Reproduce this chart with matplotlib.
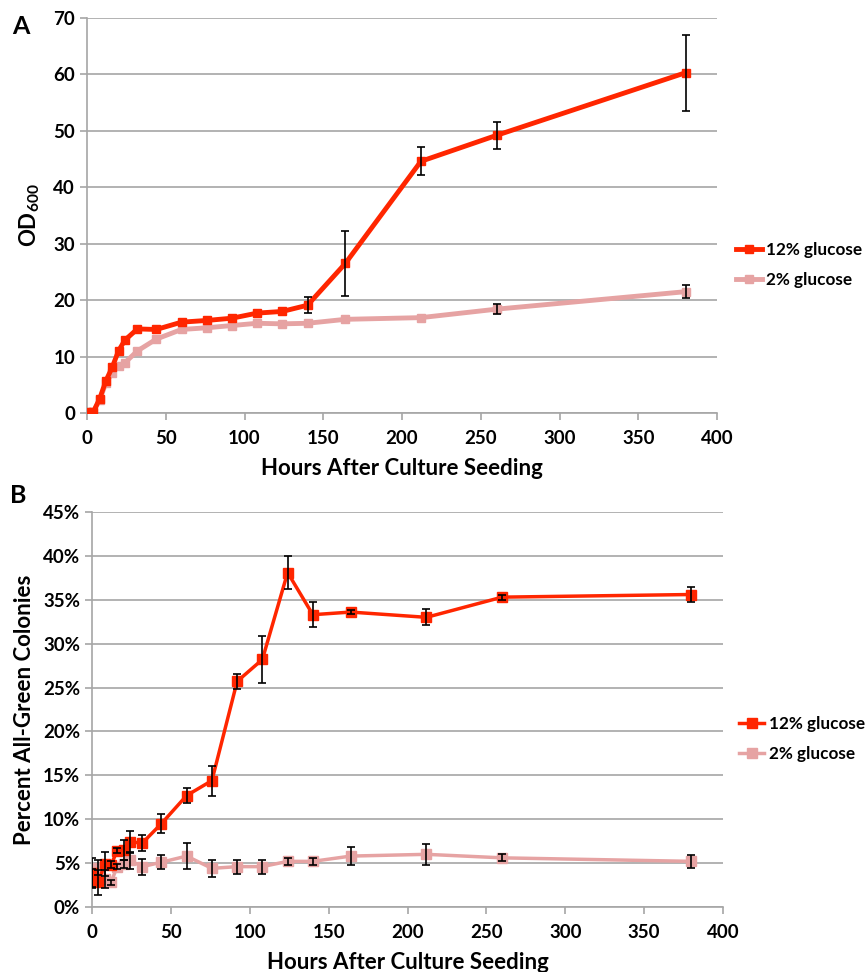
import matplotlib
matplotlib.use("Agg")
import matplotlib.pyplot as plt
from matplotlib.ticker import FuncFormatter

plt.rcParams['font.family'] = ['Lato', 'DejaVu Sans']
plt.rcParams['font.weight'] = 'bold'
plt.rcParams['axes.labelweight'] = 'bold'
plt.rcParams['mathtext.fontset'] = 'custom'
plt.rcParams['mathtext.rm'] = 'Lato:bold'
plt.rcParams['mathtext.bf'] = 'Lato:bold'

# sampling times (hours after culture seeding)
hours = [0, 4, 8, 12, 16, 20, 24, 32, 44, 60, 76, 92, 108, 124, 140, 164, 212, 260, 380]

# panel A: OD600
od_12 = [0.2, 0.2, 2.5, 5.7, 8.1, 11.0, 12.9, 14.9, 14.8, 16.1, 16.4, 16.8, 17.7, 18.0, 19.1, 26.5, 44.6, 49.2, 60.3]
od_12_err = [0, 0, 0, 0, 0, 0, 0, 0, 0, 0, 0, 0, 0, 0, 1.4, 5.7, 2.5, 2.4, 6.7]
od_2 = [0.2, 0.2, 2.3, 5.3, 7.1, 8.4, 8.9, 11.0, 13.1, 14.8, 15.1, 15.5, 15.9, 15.8, 15.9, 16.6, 16.9, 18.4, 21.5]
od_2_err = [0, 0, 0, 0, 0, 0, 0, 0, 0, 0, 0, 0, 0, 0, 0, 0, 0, 0.9, 1.1]

# panel B: percent all-green colonies
green_12 = [3.9, 2.8, 4.9, 4.8, 6.4, 6.5, 7.4, 7.3, 9.5, 12.7, 14.4, 25.7, 28.2, 38.1, 33.3, 33.6, 33.0, 35.3, 35.6]
green_12_err = [1.7, 1.4, 1.4, 0.4, 0.3, 1.1, 1.3, 0.9, 1.1, 0.9, 1.7, 0.9, 2.7, 1.9, 1.4, 0.2, 0.9, 0.3, 0.8]
green_2 = [3.3, 4.5, 3.2, 2.8, 4.6, 4.9, 5.3, 4.6, 5.1, 5.8, 4.4, 4.6, 4.6, 5.2, 5.2, 5.8, 6.0, 5.6, 5.2]
green_2_err = [1.0, 0.8, 1.0, 0.3, 0.3, 0.5, 1.0, 0.9, 0.8, 1.5, 1.0, 0.8, 0.8, 0.4, 0.4, 1.0, 1.2, 0.4, 0.7]

labels = ['12% glucose', '2% glucose']
red = '#FF2600'
pink = '#E6A3A3'
grid_c = '#A6A6A6'


def style_axes(ax):
    ax.spines['top'].set_visible(False)
    ax.spines['right'].set_visible(False)
    ax.spines['left'].set_color(grid_c)
    ax.spines['bottom'].set_color(grid_c)
    ax.spines['left'].set_linewidth(1.2)
    ax.spines['bottom'].set_linewidth(1.2)
    ax.yaxis.grid(True, color=grid_c, linewidth=1.2)
    ax.set_axisbelow(True)
    ax.set_xlim(0, 400)
    ax.set_xticks(range(0, 401, 50))
    ax.tick_params(axis='both', colors=grid_c, length=5, width=1.2, labelcolor='black', labelsize=13.5)
    ax.tick_params(axis='x', pad=7)
    ax.set_xlabel('Hours After Culture Seeding', fontsize=16, labelpad=8)


def add_legend(ax, x, y):
    ax.legend(loc='center left', bbox_to_anchor=(x, y), frameon=False, fontsize=12.3, handlelength=1.5,
              labelspacing=0.8, handletextpad=0.25, borderpad=0, borderaxespad=0)


fig = plt.figure(figsize=(8.67, 9.72), dpi=100)

# Panel A
axA = fig.add_axes([87 / 867, 1 - 413 / 972, 630 / 867, 395 / 972])
for y, c, lab in [(od_12, red, labels[0]), (od_2, pink, labels[1])]:
    axA.plot(hours, y, color=c, lw=3.5, marker='s', ms=6, label=lab, zorder=3 if c == red else 2)
for y, e in [(od_12, od_12_err), (od_2, od_2_err)]:
    ex = [h for h, v in zip(hours, e) if v > 0]
    ey = [yy for yy, v in zip(y, e) if v > 0]
    ee = [v for v in e if v > 0]
    axA.errorbar(ex, ey, yerr=ee, fmt='none', ecolor='black', elinewidth=1.2, capsize=3, capthick=1.2, zorder=4)
axA.set_ylim(0, 70)
axA.set_yticks(range(0, 71, 10))
style_axes(axA)
axA.set_ylabel(r'$\mathrm{OD}_{600}$', fontsize=16, labelpad=8)
add_legend(axA, 1.03, 0.375)
fig.text(12 / 867, 1 - 27 / 972, 'A', fontsize=18, va='center')

# Panel B
axB = fig.add_axes([92 / 867, 1 - 907 / 972, 631 / 867, 395 / 972])
for y, c, lab in [(green_12, red, labels[0]), (green_2, pink, labels[1])]:
    axB.plot(hours, y, color=c, lw=2.5, marker='s', ms=6.5, label=lab, zorder=3 if c == red else 2)
for y, e in [(green_12, green_12_err), (green_2, green_2_err)]:
    axB.errorbar(hours, y, yerr=e, fmt='none', ecolor='black', elinewidth=1.2, capsize=3, capthick=1.2, zorder=4)
axB.set_ylim(0, 45)
axB.set_yticks(range(0, 46, 5))
axB.yaxis.set_major_formatter(FuncFormatter(lambda v, p: '%d%%' % v))
style_axes(axB)
axB.set_ylabel('Percent All-Green Colonies', fontsize=16, labelpad=6)
add_legend(axB, 1.025, 0.425)
fig.text(10 / 867, 1 - 495 / 972, 'B', fontsize=18, va='center')

fig.savefig('out.png', dpi=100)
